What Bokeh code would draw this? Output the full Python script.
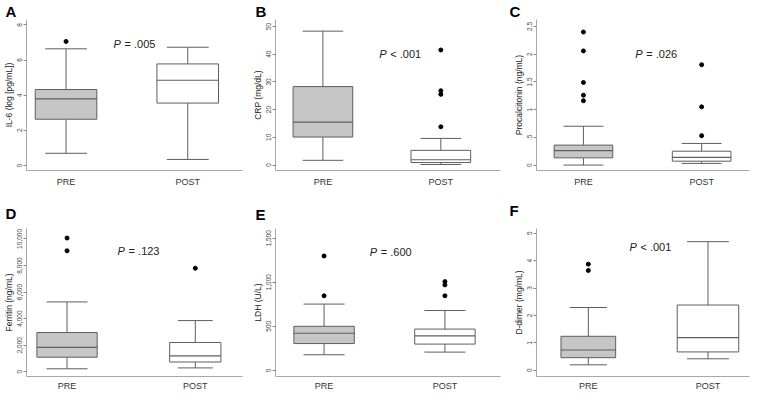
from bokeh.plotting import figure
from bokeh.models import FixedTicker
from bokeh.layouts import column, row
from bokeh.embed import file_html
from bokeh.resources import INLINE
from bokeh.core.properties import value

# ---------------- data ----------------
groups = ["PRE", "POST"]

il6_low = [0.69, 0.34]
il6_q1 = [2.63, 3.55]
il6_med = [3.79, 4.85]
il6_q3 = [4.32, 5.78]
il6_high = [6.64, 6.73]
il6_out_pre = [7.06]
il6_out_post = []

crp_low = [1.7, 0.2]
crp_q1 = [10.1, 0.9]
crp_med = [15.5, 1.9]
crp_q3 = [28.3, 5.3]
crp_high = [48.3, 9.6]
crp_out_pre = []
crp_out_post = [13.8, 25.5, 26.8, 41.5]

pct_low = [0.0, 0.03]
pct_q1 = [0.13, 0.07]
pct_med = [0.26, 0.14]
pct_q3 = [0.36, 0.25]
pct_high = [0.70, 0.39]
pct_out_pre = [1.16, 1.26, 1.49, 2.06, 2.40]
pct_out_post = [0.53, 1.05, 1.81]

fer_low = [224, 290]
fer_q1 = [1096, 735]
fer_med = [1834, 1203]
fer_q3 = [2953, 2205]
fer_high = [5257, 3853]
fer_out_pre = [9105, 10067]
fer_out_post = [7795]

ldh_low = [177, 207]
ldh_q1 = [304, 298]
ldh_med = [421, 391]
ldh_q3 = [500, 468]
ldh_high = [752, 679]
ldh_out_pre = [846, 1298]
ldh_out_post = [846, 970, 1007]

dd_low = [0.20, 0.42]
dd_q1 = [0.46, 0.67]
dd_med = [0.74, 1.19]
dd_q3 = [1.24, 2.38]
dd_high = [2.29, 4.69]
dd_out_pre = [3.64, 3.87]
dd_out_post = []

p_values = ["= .005", "< .001", "= .026", "= .123", "= .600", "< .001"]
letters = ["A", "B", "C", "D", "E", "F"]
y_titles = ["IL-6 (log [pg/mL])", "CRP (mg/dL)", "Procalcitonin (ng/mL)",
            "Ferritin (ng/mL)", "LDH (U/L)", "D-dimer (mg/mL)"]

il6_ticks = [0, 2, 4, 6, 8]
il6_tick_labels = ["0", "2", "4", "6", "8"]
crp_ticks = [0, 10, 20, 30, 40, 50]
crp_tick_labels = ["0", "10", "20", "30", "40", "50"]
pct_ticks = [0, 0.5, 1, 1.5, 2, 2.5]
pct_tick_labels = ["0", ".5", "1", "1.5", "2", "2.5"]
fer_ticks = [0, 2000, 4000, 6000, 8000, 10000]
fer_tick_labels = ["0", "2,000", "4,000", "6,000", "8,000", "10,000"]
ldh_ticks = [0, 500, 1000, 1500]
ldh_tick_labels = ["0", "500", "1,000", "1,500"]
dd_ticks = [0, 1, 2, 3, 4, 5]
dd_tick_labels = ["0", "1", "2", "3", "4", "5"]

# ---------------- layout / style ----------------
FONT = "Liberation Sans"
BOX_LINE = "#5e5e5e"
PRE_FILL = "#c6c6c6"
AXIS_GRAY = "#a8a8a8"

layout_cfg = [
    dict(W=249, H=190, L=21, R=7, T=17, B=20, st=0, xs=6, xr=(0.675, 2.45), yr=(-0.29, 8.31),
         bw=[0.506, 0.506], loff=-21, pxy=(1.357, 6.91)),
    dict(W=261, H=190, L=21, R=10, T=17, B=20, st=0, xs=6, xr=(0.598, 2.506), yr=(-1.97, 52.5),
         bw=[0.506, 0.506], loff=-20, pxy=(1.444, 39.9)),
    dict(W=240, H=190, L=21, R=1, T=17, B=20, st=0, xs=6, xr=(0.603, 2.405), yr=(-0.098, 2.626),
         bw=[0.496, 0.496], loff=-27, pxy=(1.405, 2.01)),
    dict(W=249, H=203, L=21, R=7, T=32, B=15, st=14, xs=4, xr=(0.684, 2.368), yr=(-356, 10785),
         bw=[0.47, 0.40], loff=-21, pxy=(1.363, 9087)),
    dict(W=261, H=203, L=21, R=10, T=30, B=15, st=12, xs=4, xr=(0.598, 2.46), yr=(-70, 1610),
         bw=[0.50, 0.50], loff=-20, pxy=(1.345, 1343)),
    dict(W=240, H=203, L=21, R=1, T=37, B=15, st=19, xs=4, xr=(0.567, 2.347), yr=(-0.226, 5.17),
         bw=[0.457, 0.514], loff=-27, pxy=(1.31, 4.49)),
]

panels_data = [
    (il6_low, il6_q1, il6_med, il6_q3, il6_high, il6_out_pre, il6_out_post, il6_ticks, il6_tick_labels),
    (crp_low, crp_q1, crp_med, crp_q3, crp_high, crp_out_pre, crp_out_post, crp_ticks, crp_tick_labels),
    (pct_low, pct_q1, pct_med, pct_q3, pct_high, pct_out_pre, pct_out_post, pct_ticks, pct_tick_labels),
    (fer_low, fer_q1, fer_med, fer_q3, fer_high, fer_out_pre, fer_out_post, fer_ticks, fer_tick_labels),
    (ldh_low, ldh_q1, ldh_med, ldh_q3, ldh_high, ldh_out_pre, ldh_out_post, ldh_ticks, ldh_tick_labels),
    (dd_low, dd_q1, dd_med, dd_q3, dd_high, dd_out_pre, dd_out_post, dd_ticks, dd_tick_labels),
]


def make_panel(i):
    low, q1, med, q3, high, out_pre, out_post, ticks, tick_labels = panels_data[i]
    c = layout_cfg[i]
    p = figure(width=c["W"], height=c["H"], x_range=c["xr"], y_range=c["yr"],
               output_backend="svg", toolbar_location=None,
               min_border_left=c["L"], min_border_right=c["R"],
               min_border_top=c["T"], min_border_bottom=c["B"])
    p.outline_line_color = None
    p.xgrid.visible = False
    p.ygrid.visible = False
    p.background_fill_color = "white"
    p.border_fill_color = "white"

    # panel letter as title
    p.title.text = letters[i]
    p.title.align = "left"
    p.title.offset = c["loff"]
    p.title.standoff = c["st"]
    p.title.text_font = FONT
    p.title.text_font_size = "15px"
    p.title.text_font_style = "bold"
    p.title.text_color = "black"

    xs = [1, 2]
    bw = c["bw"]
    cw = [w * 0.68 for w in bw]

    # whiskers
    p.segment(x0=xs, y0=q3, x1=xs, y1=high, line_color=BOX_LINE, line_width=1)
    p.segment(x0=xs, y0=q1, x1=xs, y1=low, line_color=BOX_LINE, line_width=1)
    # caps
    p.segment(x0=[x - w / 2 for x, w in zip(xs, cw)], y0=high,
              x1=[x + w / 2 for x, w in zip(xs, cw)], y1=high,
              line_color=BOX_LINE, line_width=1)
    p.segment(x0=[x - w / 2 for x, w in zip(xs, cw)], y0=low,
              x1=[x + w / 2 for x, w in zip(xs, cw)], y1=low,
              line_color=BOX_LINE, line_width=1)
    # boxes
    p.vbar(x=xs, width=bw, top=q3, bottom=q1, fill_color=[PRE_FILL, "white"],
           line_color=BOX_LINE, line_width=1)
    # medians
    p.segment(x0=[x - w / 2 for x, w in zip(xs, bw)], y0=med,
              x1=[x + w / 2 for x, w in zip(xs, bw)], y1=med,
              line_color=BOX_LINE, line_width=1.2)
    # outliers
    ox = [1] * len(out_pre) + [2] * len(out_post)
    oy = list(out_pre) + list(out_post)
    if oy:
        p.scatter(x=ox, y=oy, size=4, fill_color="black", line_color="black")

    # p-value text
    px, py = c["pxy"]
    p.text(x=[px], y=[py], text=["P"], x_offset=4, text_font=value(FONT),
           text_font_size="11px", text_font_style="italic", text_color="#222222",
           text_baseline="middle")
    p.text(x=[px], y=[py], text=[p_values[i]], x_offset=15, text_font=value(FONT),
           text_font_size="11px", text_color="#222222", text_baseline="middle")

    # y axis
    ya = p.yaxis[0]
    ya.ticker = FixedTicker(ticks=ticks)
    ya.major_label_overrides = {t: s for t, s in zip(ticks, tick_labels)}
    ya.major_label_orientation = "vertical"
    ya.major_label_text_font = FONT
    ya.major_label_text_font_size = "6.5px"
    ya.major_label_text_color = "#444444"
    ya.major_label_standoff = 1
    ya.major_tick_out = 3
    ya.major_tick_in = 0
    ya.major_tick_line_color = "#888888"
    ya.minor_tick_line_color = None
    ya.axis_line_color = AXIS_GRAY
    ya.axis_label = y_titles[i]
    ya.axis_label_text_font = FONT
    ya.axis_label_text_font_size = "8.5px"
    ya.axis_label_text_font_style = "normal"
    ya.axis_label_text_color = "#222222"
    ya.axis_label_standoff = 1

    # x axis
    xa = p.xaxis[0]
    xa.ticker = FixedTicker(ticks=xs)
    xa.major_label_overrides = {1: groups[0], 2: groups[1]}
    xa.major_label_text_font = FONT
    xa.major_label_text_font_size = "9px"
    xa.major_label_text_color = "#333333"
    xa.major_label_standoff = c["xs"]
    xa.major_tick_out = 0
    xa.major_tick_in = 0
    xa.minor_tick_line_color = None
    xa.axis_line_color = AXIS_GRAY
    return p


plots = [make_panel(i) for i in range(6)]
layout = column(row(plots[0], plots[1], plots[2]), row(plots[3], plots[4], plots[5]))

open("out.html", "w").write(file_html(layout, INLINE))
